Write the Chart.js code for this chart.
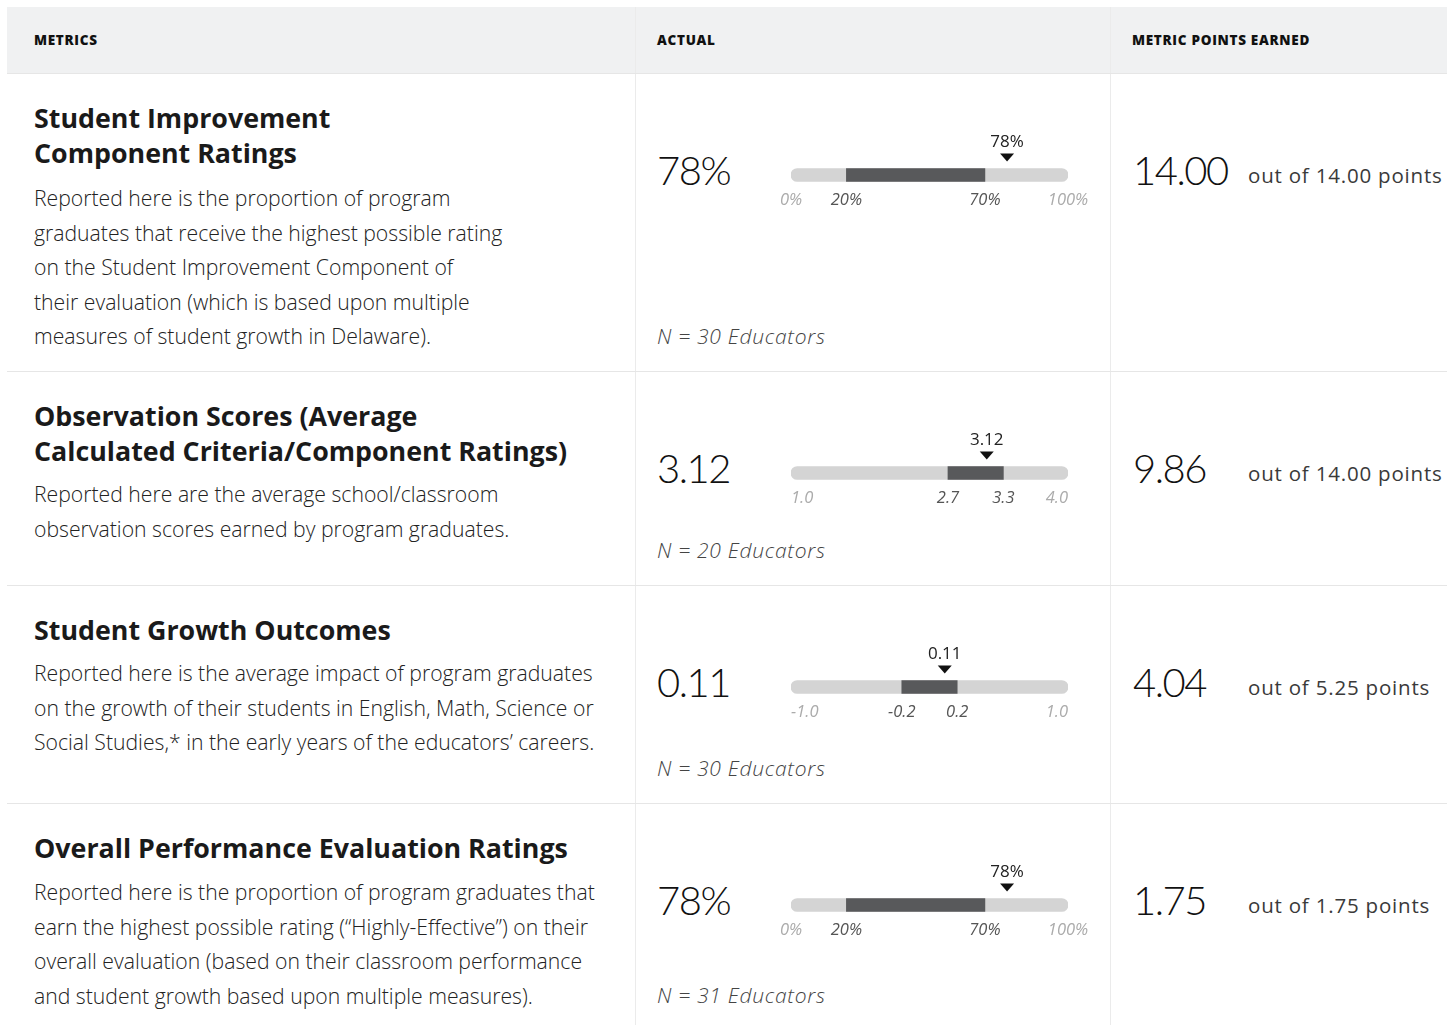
<!DOCTYPE html>
<html lang="en">
<head>
  <meta charset="UTF-8">
  <title>Metrics</title>
  <script src="https://cdn.jsdelivr.net/npm/chart.js@4.4.1/dist/chart.umd.min.js"></script>
  <style>
    html, body { margin: 0; padding: 0; background: #fff; overflow: hidden; }
    body { font-family: "Open Sans", Lato, sans-serif; color: #222; }
    .table { position: absolute; left: 7px; top: 7px; width: 1440px; }
    .head { position: relative; height: 66px; background: #f0f1f2; }
    .head div {
      position: absolute; top: 0; line-height: 66px; font-size: 13.5px;
      font-weight: 800; letter-spacing: 0.7px; color: #111;
    }
    .row { position: relative; border-top: 1px solid #e6e6e6; }
    .row:first-of-type { border-top: none; }
    .col-line { position: absolute; top: 0; bottom: 0; width: 1px; background: #ebebeb; }
    .title {
      position: absolute; left: 27px; top: 26px; font-size: 26.8px; font-weight: 700;
      line-height: 35px; white-space: pre; color: #1a1a1a;
    }
    .desc {
      position: absolute; left: 27px; font-size: 21.2px; font-weight: 300;
      line-height: 34.5px; white-space: pre; color: #222;
    }
    .big {
      position: absolute; font-family: Lato, sans-serif; font-size: 40px; font-weight: 300;
      line-height: 50px; color: #111; letter-spacing: -1.5px;
    }
    .n {
      position: absolute; left: 650px; font-size: 21px; font-style: italic;
      font-weight: 300; line-height: 24px; color: #444; letter-spacing: 0.7px;
    }
    .outof {
      position: absolute; left: 1241px; font-size: 20.5px; font-weight: 400;
      color: #3a3a3a; letter-spacing: 0.8px;
    }
    canvas { position: absolute; left: 763px; }
  </style>
</head>
<body>
  <div class="table" id="table">
    <div class="head">
      <div style="left:27px">METRICS</div>
      <div style="left:650px">ACTUAL</div>
      <div style="left:1125px">METRIC POINTS EARNED</div>
      <div class="col-line" style="left:628px"></div>
      <div class="col-line" style="left:1103px"></div>
    </div>
  </div>

  <script>
    const metricTitles = [
      'Student Improvement\nComponent Ratings',
      'Observation Scores (Average\nCalculated Criteria/Component Ratings)',
      'Student Growth Outcomes',
      'Overall Performance Evaluation Ratings'
    ];
    const metricDescriptions = [
      'Reported here is the proportion of program\ngraduates that receive the highest possible rating\non the Student Improvement Component of\ntheir evaluation (which is based upon multiple\nmeasures of student growth in Delaware).',
      'Reported here are the average school/classroom\nobservation scores earned by program graduates.',
      'Reported here is the average impact of program graduates\non the growth of their students in English, Math, Science or\nSocial Studies,* in the early years of the educators\u2019 careers.',
      'Reported here is the proportion of program graduates that\nearn the highest possible rating (\u201cHighly-Effective\u201d) on their\noverall evaluation (based on their classroom performance\nand student growth based upon multiple measures).'
    ];
    const actualValues = [78, 3.12, 0.11, 78];
    const actualLabels = ['78%', '3.12', '0.11', '78%'];
    const scaleMin = [0, 1.0, -1.0, 0];
    const scaleMax = [100, 4.0, 1.0, 100];
    const rangeLow = [20, 2.7, -0.2, 20];
    const rangeHigh = [70, 3.3, 0.2, 70];
    const tickLabels = [
      ['0%', '20%', '70%', '100%'],
      ['1.0', '2.7', '3.3', '4.0'],
      ['-1.0', '-0.2', '0.2', '1.0'],
      ['0%', '20%', '70%', '100%']
    ];
    const educatorCounts = [30, 20, 30, 31];
    const pointsEarned = ['14.00', '9.86', '4.04', '1.75'];
    const pointsPossible = ['14.00', '14.00', '5.25', '1.75'];

    // layout per row (row height, description top)
    const rowHeights = [297, 213, 217, 226];
    const descTops = [107, 105, 70, 71];

    const table = document.getElementById('table');

    // draws the marker triangle + label and the 4 tick labels from the x scale
    const rangeMarks = {
      id: 'rangeMarks',
      afterDatasetsDraw(chart, args, opts) {
        const x = chart.scales.x;
        const bar = chart.getDatasetMeta(0).data[0];
        const top = bar.y - bar.height / 2;
        const bottom = bar.y + bar.height / 2;
        const c = chart.ctx;
        const mx = x.getPixelForValue(opts.value);

        c.save();
        c.fillStyle = '#111';
        c.beginPath();
        c.moveTo(mx - 7, top - 15);
        c.lineTo(mx + 7, top - 15);
        c.lineTo(mx, top - 7);
        c.closePath();
        c.fill();

        c.font = '400 17px "Open Sans"';
        c.textAlign = 'center';
        c.textBaseline = 'middle';
        c.fillStyle = '#222';
        c.fillText(opts.label, mx, top - 26);

        c.font = 'italic 400 16.5px "Open Sans"';
        opts.ticks.forEach((t, i) => {
          const edge = i === 0 || i === opts.ticks.length - 1;
          c.fillStyle = edge ? '#ababab' : '#555';
          let align = 'center';
          if (edge && opts.edgeInside) align = i === 0 ? 'left' : 'right';
          c.textAlign = align;
          c.fillText(t, x.getPixelForValue(opts.tickValues[i]), bottom + 19);
        });
        c.restore();
      }
    };

    metricTitles.forEach((title, i) => {
      const row = document.createElement('div');
      row.className = 'row';
      row.style.height = rowHeights[i] + 'px';
      row.innerHTML = `
        <div class="col-line" style="left:628px"></div>
        <div class="col-line" style="left:1103px"></div>
        <div class="title"></div>
        <div class="desc" style="top:${descTops[i]}px"></div>
        <div class="big" style="left:650px;top:71px">${actualLabels[i]}</div>
        <div class="big" style="left:1126px;top:71px">${pointsEarned[i]}</div>
        <div class="outof" style="top:87px">out of ${pointsPossible[i]} points</div>
        <div class="n" style="bottom:23px">N = ${educatorCounts[i]} Educators</div>
        <canvas width="330" height="90" style="top:50px"></canvas>`;
      row.querySelector('.title').textContent = title;
      row.querySelector('.desc').textContent = metricDescriptions[i];
      table.appendChild(row);

      const isPct = tickLabels[i][0].includes('%');
      new Chart(row.querySelector('canvas'), {
        type: 'bar',
        data: {
          labels: [''],
          datasets: [{
            data: [[scaleMin[i], scaleMax[i]]],
            backgroundColor: '#d4d4d4',
            borderRadius: 7,
            borderSkipped: false,
            barThickness: 13,
            grouped: false,
            order: 2
          }, {
            data: [[rangeLow[i], rangeHigh[i]]],
            backgroundColor: '#58595b',
            borderRadius: 0,
            barThickness: 13,
            grouped: false,
            order: 1
          }]
        },
        options: {
          indexAxis: 'y',
          responsive: false,
          animation: false,
          events: [],
          layout: { padding: { left: 21, right: 32, top: 44, bottom: 32 } },
          scales: {
            x: { display: false, min: scaleMin[i], max: scaleMax[i] },
            y: { display: false }
          },
          plugins: {
            legend: { display: false },
            tooltip: { enabled: false },
            rangeMarks: {
              value: actualValues[i],
              label: actualLabels[i],
              ticks: tickLabels[i],
              tickValues: [scaleMin[i], rangeLow[i], rangeHigh[i], scaleMax[i]],
              edgeInside: !isPct
            }
          }
        },
        plugins: [rangeMarks]
      });
    });
  </script>
</body>
</html>
